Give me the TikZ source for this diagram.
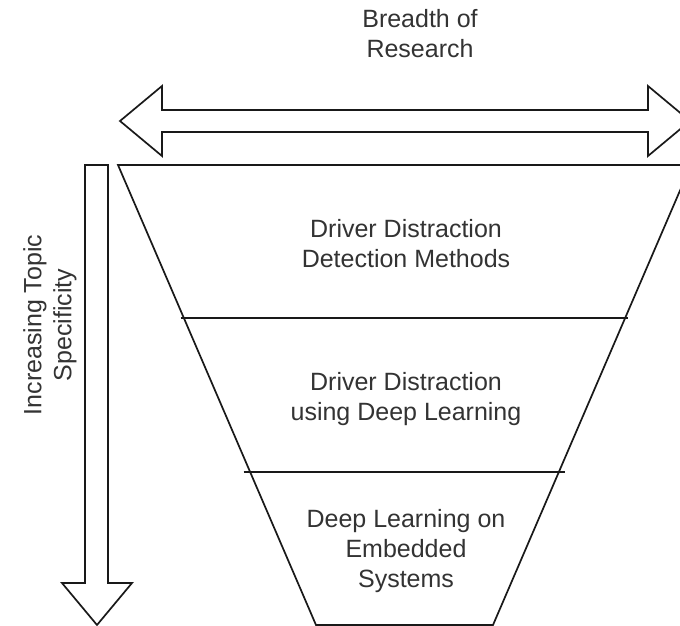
\documentclass[tikz,border=0pt]{standalone}
\usepackage{fontspec}
\setmainfont{Liberation Sans}
\begin{document}
\begin{tikzpicture}[x=1pt,y=-1pt,
  outline/.style={draw=black!90, line width=1.7pt, line join=miter, fill=white},
  lbl/.style={align=center, text=black!80, font=\fontsize{25}{30}\selectfont, inner sep=0pt}]
\useasboundingbox (0,0) rectangle (680,626);
\clip (0,0) rectangle (680,626);
% horizontal double arrow
\draw[outline] (120,121) -- (162,86) -- (162,110) -- (648,110) -- (648,86) -- (690,121)
  -- (648,156) -- (648,132) -- (162,132) -- (162,156) -- cycle;
% vertical arrow
\draw[outline] (85,165) -- (108,165) -- (108,583) -- (132,583) -- (97,625) -- (62,583) -- (85,583) -- cycle;
% funnel
\draw[outline] (118,165) -- (691,165) -- (493,625) -- (316,625) -- cycle;
\draw[outline] ({118+0.409*(318-165)},318) -- ({691-0.409*(318-165)},318);
\draw[outline] ({118+0.409*(472-165)},472) -- ({691-0.409*(472-165)},472);
% labels
\node[lbl] (breadth) at (420,34) {Breadth of\\Research};
\node[lbl] (l1) at (406,244) {Driver Distraction\\Detection Methods};
\node[lbl] (l2) at (406,399) {Driver Distraction\\using Deep Learning};
\node[lbl] (l3) at (406,551) {Deep Learning on\\Embedded\\Systems};
\node[lbl, rotate=90] (spec) at (50,325) {Increasing Topic\\Specificity};
\end{tikzpicture}
\end{document}
